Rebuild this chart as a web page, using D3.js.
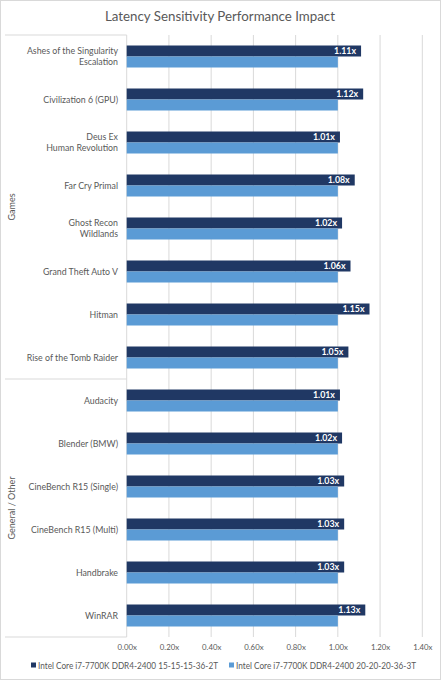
<!DOCTYPE html>
<html><head><meta charset="utf-8">
<script src="https://cdn.jsdelivr.net/npm/d3@7"></script>
<style>
html,body{margin:0;padding:0;background:#fff;}
svg{display:block;font-family:Lato,"Open Sans",sans-serif;}
</style></head>
<body>
<svg id="chart" width="441" height="680"></svg>
<script>
const title = "Latency Sensitivity Performance Impact";
const categories = [
  "Ashes of the Singularity\nEscalation",
  "Civilization 6 (GPU)",
  "Deus Ex\nHuman Revolution",
  "Far Cry Primal",
  "Ghost Recon\nWildlands",
  "Grand Theft Auto V",
  "Hitman",
  "Rise of the Tomb Raider",
  "Audacity",
  "Blender (BMW)",
  "CineBench R15 (Single)",
  "CineBench R15 (Multi)",
  "Handbrake",
  "WinRAR"
];
const groupNames = ["Games", "General / Other"];
const groupCounts = [8, 6];
const seriesNames = [
  "Intel Core i7-7700K DDR4-2400 15-15-15-36-2T",
  "Intel Core i7-7700K DDR4-2400 20-20-20-36-3T"
];
const fastValues = [1.11, 1.12, 1.01, 1.08, 1.02, 1.06, 1.15, 1.05, 1.01, 1.02, 1.03, 1.03, 1.03, 1.13];
const baseValues = [1.00, 1.00, 1.00, 1.00, 1.00, 1.00, 1.00, 1.00, 1.00, 1.00, 1.00, 1.00, 1.00, 1.00];
const xTicks = [0, 0.2, 0.4, 0.6, 0.8, 1.0, 1.2, 1.4];
const colors = ["#203864", "#5B9BD5"];

(function(){
const svg = d3.select("#chart");
const W = 441, H = 680;
const pLeft = 126.7, pRight = 422.3, pTop = 35, pBottom = 637, labelLeft = 5;

svg.append("rect").attr("x",0.5).attr("y",0.5).attr("width",W-1).attr("height",H-1)
  .attr("fill","#fff").attr("stroke","#d9d9d9");

svg.append("text").attr("x", 220).attr("y", 21).attr("text-anchor","middle")
  .attr("font-size", 13.3).attr("fill","#595959").text(title);

const x = d3.scaleLinear().domain([0, 1.4]).range([pLeft, pRight]);
const y = d3.scaleBand().domain(categories).range([pTop, pBottom]);
const inner = d3.scaleBand().domain([0,1]).range([0, 22]);

svg.append("g").selectAll("line").data(xTicks.slice(1)).join("line")
  .attr("x1", d=>x(d)).attr("x2", d=>x(d)).attr("y1", pTop).attr("y2", pBottom)
  .attr("stroke","#d9d9d9").attr("stroke-width",1);

const xAxis = d3.axisBottom(x).tickValues(xTicks).tickSize(0).tickFormat(d=>d3.format(".2f")(d)+"x");
const gx = svg.append("g").attr("transform",`translate(0,${pBottom+4})`).call(xAxis);
gx.select(".domain").remove();
gx.selectAll("text").attr("font-size",7.8).attr("fill","#595959").attr("font-family","Lato,'Open Sans',sans-serif");

svg.append("line").attr("x1",pLeft).attr("x2",pLeft).attr("y1",pTop).attr("y2",pBottom)
  .attr("stroke","#d9d9d9");

let cum = 0;
const bounds = [0];
groupCounts.forEach(c=>{cum+=c; bounds.push(cum);});
const by = d => d===categories.length ? pBottom : y(categories[d]);
svg.append("g").selectAll("line").data(bounds).join("line")
  .attr("x1", labelLeft).attr("x2", pLeft)
  .attr("y1", by).attr("y2", by)
  .attr("stroke","#d9d9d9");

groupNames.forEach((g,i)=>{
  const cy = (by(bounds[i]) + by(bounds[i+1]))/2;
  svg.append("text").attr("transform",`translate(14.5,${cy}) rotate(-90)`)
    .attr("text-anchor","middle").attr("font-size",9).attr("fill","#595959").text(g);
});

const catG = svg.append("g");
categories.forEach(c=>{
  const lines = c.split("\n");
  const cy = y(c) + y.bandwidth()/2;
  const t = catG.append("text").attr("text-anchor","end").attr("font-size",8.8).attr("fill","#595959");
  lines.forEach((l,i)=>{
    t.append("tspan").attr("x",118).attr("y", cy + (i - (lines.length-1)/2)*11 + 3.1).text(l);
  });
});

const series = [fastValues, baseValues];
series.forEach((vals, si)=>{
  svg.append("g").selectAll("rect").data(categories).join("rect")
    .attr("x", x(0))
    .attr("y", (c)=> y(c) + y.bandwidth()/2 - 11 + inner(si))
    .attr("width", (c,i)=> x(vals[i]) - x(0))
    .attr("height", inner.bandwidth())
    .attr("fill", colors[si]);
});

svg.append("g").selectAll("text").data(categories).join("text")
  .attr("x", (c,i)=> x(fastValues[i]) - 5)
  .attr("y", (c)=> y(c) + y.bandwidth()/2 - 11 + inner(0) + inner.bandwidth()/2 + 3.2)
  .attr("text-anchor","end").attr("font-size",8.8).attr("font-weight","bold").attr("fill","#fff")
  .text((c,i)=> d3.format(".2f")(fastValues[i]) + "x");

const leg = svg.append("g");
const legX = [31, 229];
seriesNames.forEach((s,i)=>{
  leg.append("rect").attr("x",legX[i]).attr("y",662.5).attr("width",5).attr("height",5).attr("fill",colors[i]);
  leg.append("text").attr("x",legX[i]+7).attr("y",668.8).attr("font-size",9.2)
    .attr("textLength",180).attr("lengthAdjust","spacingAndGlyphs")
    .attr("fill","#595959").text(s);
});
})();
</script>
</body></html>
